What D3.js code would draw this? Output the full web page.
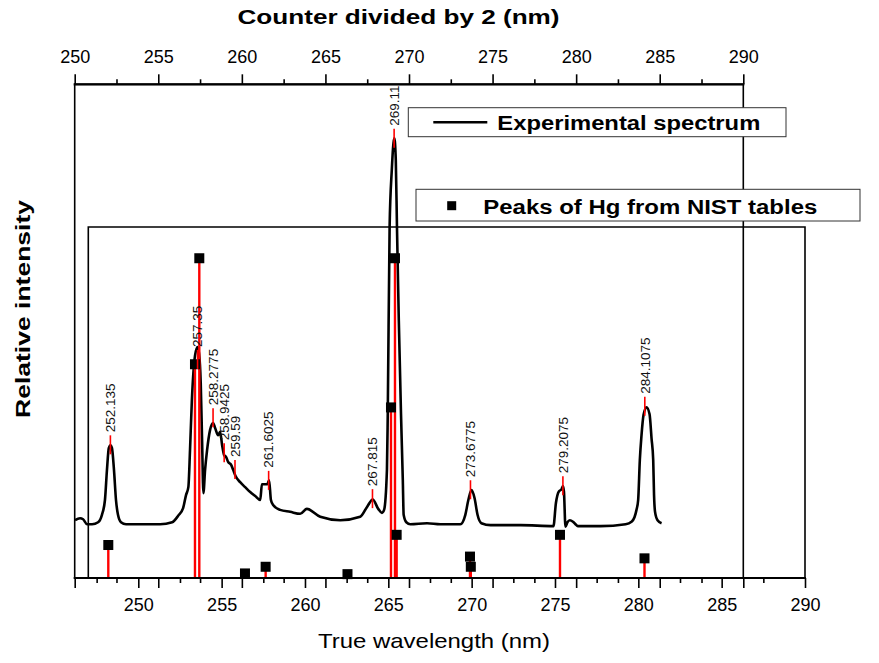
<!DOCTYPE html>
<html>
<head>
<meta charset="utf-8">
<script src="https://cdn.jsdelivr.net/npm/d3@7"></script>
<style>
  body { margin: 0; background: #fff; }
  svg { display: block; font-family: Arial, "Liberation Sans", sans-serif; }
</style>
</head>
<body>
<svg id="chart" width="879" height="663"></svg>
<script>
//experimental spectrum: x = counter divided by 2 (nm), y = relative intensity
const specX = [250.02, 250.32, 250.50, 250.74, 251.04, 251.40, 251.63, 251.81, 251.93, 252.04,
  252.14, 252.23, 252.35, 252.47, 252.59, 252.77, 253.07, 253.91, 255.11, 255.83,
  256.19, 256.49, 256.66, 256.80, 256.90, 257.01, 257.10, 257.20, 257.35, 257.44,
  257.54, 257.62, 257.70, 257.80, 257.92, 258.10, 258.28, 258.40, 258.58, 258.70,
  258.82, 258.94, 259.06, 259.18, 259.36, 259.48, 259.63, 259.90, 260.20, 260.50,
  260.80, 261.10, 261.20, 261.34, 261.53, 261.63, 261.74, 261.87, 262.29, 262.89,
  263.49, 263.89, 264.69, 265.89, 267.08, 267.49, 267.83, 268.16, 268.38, 268.51,
  268.68, 268.73, 268.84, 268.97, 269.12, 269.21, 269.28, 269.39, 269.52, 269.63,
  269.68, 269.84, 270.08, 271.08, 271.87, 273.07, 273.37, 273.55, 273.74, 273.92,
  274.10, 274.33, 274.88, 276.68, 278.64, 278.79, 278.96, 279.13, 279.21, 279.27,
  279.36, 279.48, 279.62, 279.81, 279.96, 280.10, 281.46, 282.96, 283.31, 283.49,
  283.61, 283.71, 283.81, 283.91, 284.03, 284.21, 284.39, 284.51, 284.61, 284.66,
  284.72, 284.87, 285.11]
const specY = [11.7, 12.1, 11.9, 10.9, 10.9, 11.3, 12.8, 15.8, 21.9, 26.3,
  26.9, 26.3, 21.9, 15.8, 12.8, 11.3, 10.9, 10.9, 10.9, 11.3,
  12.6, 14.2, 16.8, 18.4, 26.0, 36.0, 41.5, 45.1, 46.8, 45.5,
  39.5, 28.0, 17.2, 21.9, 25.9, 30.0, 31.4, 30.4, 28.9, 29.6,
  26.9, 24.9, 24.5, 23.5, 22.9, 21.9, 20.6, 19.4, 18.4, 17.4,
  16.6, 15.8, 19.0, 19.0, 19.0, 19.8, 15.8, 14.8, 13.8, 13.4,
  13.0, 14.0, 12.4, 11.7, 12.4, 14.4, 15.9, 14.0, 13.2, 13.8,
  21.9, 33.4, 71.1, 82.6, 89.1, 84.6, 71.1, 52.2, 33.4, 19.8,
  12.8, 11.3, 10.9, 11.1, 10.9, 10.9, 12.8, 15.8, 17.8, 16.2,
  12.8, 11.1, 10.7, 10.7, 10.5, 15.2, 17.5, 18.0, 18.6, 17.5,
  10.4, 11.3, 11.7, 11.4, 10.9, 10.5, 10.5, 10.9, 11.4, 12.3,
  13.8, 15.8, 23.9, 28.9, 33.0, 34.6, 33.2, 28.3, 23.9, 16.8,
  13.4, 11.7, 11.1]

//labelled peaks (counter / 2) and the level of the top of their red marker
const peakNames = ["252.135", "257.35", "258.2775", "258.9425", "259.59", "261.6025",
  "267.815", "269.11", "273.6775", "279.2075", "284.1075"]
const peakTop = [28.9, 46.2, 34.4, 27.3, 23.9, 21.7, 18.0, 91.0, 19.8, 20.6, 36.7]

//Hg lines from NIST tables (true wavelength, relative intensity)
const nistX = [248.2, 253.4, 253.66, 256.4, 257.64, 262.55, 265.16, 265.40, 265.50, 269.9, 269.95, 275.3, 280.37]
const nistY = [9.4, 60.9, 91.1, 1.3, 3.2, 1.1, 48.6, 91.1, 12.3, 6.1, 3.2, 12.3, 5.6]

//tick values
const topTicks = [250, 255, 260, 265, 270, 275, 280, 285, 290]
const topMinor = [252.5, 257.5, 262.5, 267.5, 272.5, 277.5, 282.5, 287.5]
const trueTicks = [250, 255, 260, 265, 270, 275, 280, 285, 290]
const trueMinor = [247.5, 252.5, 257.5, 262.5, 267.5, 272.5, 277.5, 282.5, 287.5]

const svg = d3.select("#chart")

//outer plot (spectrum) and inner plot (NIST lines)
const xTop = d3.scaleLinear().domain([250, 290]).range([74.7, 743.3])
const yA = d3.scaleLinear().domain([0, 100]).range([578, 84.3])
const xTrue = d3.scaleLinear().domain([247, 290]).range([88.3, 805])
const yB = d3.scaleLinear().domain([0, 100]).range([578, 227])

//frames
const frame = svg.append("g").attr("fill", "none").attr("stroke", "#000").attr("stroke-width", 1.6)
frame.append("rect")
  .attr("x", xTop(250)).attr("y", yA(100))
  .attr("width", xTop(290) - xTop(250)).attr("height", yA(0) - yA(100))
frame.append("path")
  .attr("d", `M${xTrue(247)},${yB(0)}V${yB(100)}H${xTrue(290)}V${yB(0)}`)

//spectrum
const line = d3.line()
  .x(i => xTop(specX[i]))
  .y(i => yA(specY[i]))
  .curve(d3.curveMonotoneX)
svg.append("path")
  .attr("d", line(d3.range(specX.length)))
  .attr("fill", "none")
  .attr("stroke", "#000")
  .attr("stroke-width", 2.6)
  .attr("stroke-linejoin", "round")

//NIST drop lines and squares
const nist = svg.append("g")
nist.selectAll("line").data(nistX).enter().append("line")
  .attr("x1", d => xTrue(d)).attr("x2", d => xTrue(d))
  .attr("y1", (d, i) => yB(nistY[i])).attr("y2", yB(0))
  .attr("stroke", "#ff0000").attr("stroke-width", 2.4)
nist.selectAll("rect").data(nistX).enter().append("rect")
  .attr("x", d => xTrue(d) - 5)
  .attr("y", (d, i) => yB(nistY[i]) - 5)
  .attr("width", 10).attr("height", 10)
  .attr("fill", "#000")

//peak markers and labels
const peaks = svg.append("g")
peaks.selectAll("line").data(peakNames).enter().append("line")
  .attr("x1", d => xTop(+d)).attr("x2", d => xTop(+d))
  .attr("y1", (d, i) => yA(peakTop[i])).attr("y2", (d, i) => yA(peakTop[i]) + 19)
  .attr("stroke", "#ff0000").attr("stroke-width", 1.6)
peaks.selectAll("text").data(peakNames).enter().append("text")
  .attr("transform", (d, i) => `translate(${xTop(+d)},${yA(peakTop[i]) - 3}) rotate(-90)`)
  .attr("dy", "0.35em")
  .attr("font-size", 13.5)
  .attr("fill", "#111")
  .text(d => d)

//axes
const styleAxis = (g, fs) => {
  g.select(".domain").remove()
  g.selectAll("line").attr("stroke", "#000").attr("stroke-width", 1.6)
  g.selectAll("text").attr("font-size", fs).attr("fill", "#000").attr("font-family", "Arial, 'Liberation Sans', sans-serif")
}
svg.append("g").attr("transform", `translate(0,${yA(100)})`)
  .call(d3.axisTop(xTop).tickValues(topTicks).tickSize(10).tickPadding(11).tickFormat(d3.format("d")))
  .call(g => styleAxis(g, 18))
svg.append("g").attr("transform", `translate(0,${yA(100)})`)
  .call(d3.axisTop(xTop).tickValues(topMinor).tickSize(5).tickFormat(""))
  .call(g => styleAxis(g, 18))
svg.append("g").attr("transform", `translate(0,${yA(0)})`)
  .call(d3.axisBottom(xTop).tickValues(topTicks).tickSize(10).tickFormat(""))
  .call(g => styleAxis(g, 18))
svg.append("g").attr("transform", `translate(0,${yA(0)})`)
  .call(d3.axisBottom(xTop).tickValues(topMinor).tickSize(5).tickFormat(""))
  .call(g => styleAxis(g, 18))
svg.append("g").attr("transform", `translate(0,${yB(0)})`)
  .call(d3.axisBottom(xTrue).tickValues(trueTicks).tickSize(10).tickPadding(10).tickFormat(d3.format("d")))
  .call(g => styleAxis(g, 18))
svg.append("g").attr("transform", `translate(0,${yB(0)})`)
  .call(d3.axisBottom(xTrue).tickValues(trueMinor).tickSize(5).tickFormat(""))
  .call(g => styleAxis(g, 18))

//axis lines
svg.append("line")
  .attr("x1", xTop(250) - 1).attr("x2", xTrue(290) + 1)
  .attr("y1", yA(0)).attr("y2", yA(0))
  .attr("stroke", "#000").attr("stroke-width", 2.2)
svg.append("line")
  .attr("x1", xTop(250) - 1).attr("x2", xTop(290) + 1)
  .attr("y1", yA(100)).attr("y2", yA(100))
  .attr("stroke", "#000").attr("stroke-width", 2.2)

//titles
svg.append("text")
  .attr("x", 398.5).attr("y", 24)
  .attr("text-anchor", "middle")
  .attr("font-size", 20).attr("font-weight", "bold")
  .attr("textLength", 322).attr("lengthAdjust", "spacingAndGlyphs")
  .text("Counter divided by 2 (nm)")
svg.append("text")
  .attr("x", 434).attr("y", 648)
  .attr("text-anchor", "middle")
  .attr("font-size", 21)
  .attr("textLength", 232).attr("lengthAdjust", "spacingAndGlyphs")
  .text("True wavelength (nm)")
svg.append("text")
  .attr("transform", "translate(30,309) rotate(-90)")
  .attr("text-anchor", "middle")
  .attr("font-size", 21).attr("font-weight", "bold")
  .attr("textLength", 218).attr("lengthAdjust", "spacingAndGlyphs")
  .text("Relative intensity")

//legends
const leg1 = svg.append("g")
leg1.append("rect")
  .attr("x", 408.3).attr("y", 107.7).attr("width", 377.7).attr("height", 29)
  .attr("fill", "#fff").attr("stroke", "#333").attr("stroke-width", 1)
leg1.append("line")
  .attr("x1", 433.3).attr("x2", 487.3).attr("y1", 122.3).attr("y2", 122.3)
  .attr("stroke", "#000").attr("stroke-width", 2.6)
leg1.append("text")
  .attr("x", 497.3).attr("y", 129.5)
  .attr("font-size", 20).attr("font-weight", "bold")
  .attr("textLength", 263).attr("lengthAdjust", "spacingAndGlyphs")
  .text("Experimental spectrum")

const leg2 = svg.append("g")
leg2.append("rect")
  .attr("x", 416).attr("y", 189.3).attr("width", 444).attr("height", 31.7)
  .attr("fill", "#fff").attr("stroke", "#333").attr("stroke-width", 1)
leg2.append("rect")
  .attr("x", 447.2).attr("y", 201.2).attr("width", 9).attr("height", 9)
  .attr("fill", "#000")
leg2.append("text")
  .attr("x", 483.3).attr("y", 214)
  .attr("font-size", 20).attr("font-weight", "bold")
  .attr("textLength", 334).attr("lengthAdjust", "spacingAndGlyphs")
  .text("Peaks of Hg from NIST tables")
</script>
</body>
</html>
